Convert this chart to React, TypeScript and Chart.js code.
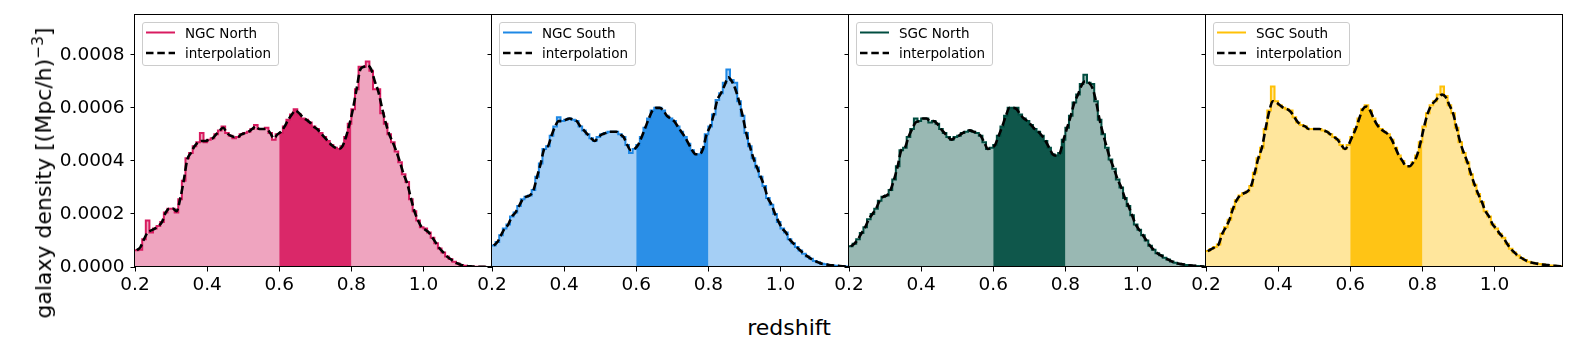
import React, { useEffect, useRef } from 'react';
import { Chart, registerables } from 'chart.js';

Chart.register(...registerables);

// ---------------- data ----------------
const BIN_EDGES = [
  0.20, 0.21, 0.22, 0.23, 0.24, 0.25, 0.26, 0.27, 0.28, 0.29,
  0.30, 0.31, 0.32, 0.33, 0.34, 0.35, 0.36, 0.37, 0.38, 0.39,
  0.40, 0.41, 0.42, 0.43, 0.44, 0.45, 0.46, 0.47, 0.48, 0.49,
  0.50, 0.51, 0.52, 0.53, 0.54, 0.55, 0.56, 0.57, 0.58, 0.59,
  0.60, 0.61, 0.62, 0.63, 0.64, 0.65, 0.66, 0.67, 0.68, 0.69,
  0.70, 0.71, 0.72, 0.73, 0.74, 0.75, 0.76, 0.77, 0.78, 0.79,
  0.80, 0.81, 0.82, 0.83, 0.84, 0.85, 0.86, 0.87, 0.88, 0.89,
  0.90, 0.91, 0.92, 0.93, 0.94, 0.95, 0.96, 0.97, 0.98, 0.99,
  1.00, 1.01, 1.02, 1.03, 1.04, 1.05, 1.06, 1.07, 1.08, 1.09,
  1.10, 1.11, 1.12, 1.13, 1.14, 1.15, 1.16, 1.17, 1.18, 1.19,
];

const NGC_NORTH_HIST = [
  6.3e-5, 6.5e-5, 1.05e-4, 1.75e-4, 1.3e-4, 1.45e-4, 1.55e-4, 1.7e-4, 2.05e-4, 2.2e-4,
  2.2e-4, 2.05e-4, 2.55e-4, 3.25e-4, 4.1e-4, 4.3e-4, 4.55e-4, 4.7e-4, 5.05e-4, 4.7e-4,
  4.8e-4, 4.85e-4, 5.0e-4, 5.15e-4, 5.3e-4, 5.05e-4, 4.95e-4, 4.85e-4, 4.9e-4, 5.0e-4,
  5.05e-4, 5.1e-4, 5.2e-4, 5.35e-4, 5.2e-4, 5.2e-4, 5.25e-4, 5.05e-4, 4.8e-4, 5.0e-4,
  5.05e-4, 5.3e-4, 5.55e-4, 5.75e-4, 5.95e-4, 5.75e-4, 5.6e-4, 5.55e-4, 5.45e-4, 5.3e-4,
  5.2e-4, 5.05e-4, 4.9e-4, 4.75e-4, 4.6e-4, 4.5e-4, 4.45e-4, 4.55e-4, 4.9e-4, 5.4e-4,
  5.95e-4, 6.7e-4, 7.55e-4, 7.55e-4, 7.75e-4, 7.4e-4, 6.7e-4, 6.7e-4, 5.8e-4, 5.4e-4,
  5.0e-4, 4.7e-4, 4.35e-4, 3.95e-4, 3.5e-4, 3.2e-4, 2.55e-4, 2.1e-4, 1.75e-4, 1.5e-4,
  1.45e-4, 1.3e-4, 1.1e-4, 9.0e-5, 7.0e-5, 5.5e-5, 4.0e-5, 3.0e-5, 2.0e-5, 1.3e-5,
  8e-6, 5e-6, 3e-6, 2e-6, 1e-6, 1e-6, 5e-7, 0, 0,
];
const NGC_NORTH_INTERP = [
  6.3e-5, 7.5e-5, 1.05e-4, 1.3e-4, 1.38e-4, 1.45e-4, 1.55e-4, 1.7e-4, 2.05e-4, 2.2e-4,
  2.2e-4, 2.1e-4, 2.55e-4, 3.25e-4, 4.05e-4, 4.3e-4, 4.55e-4, 4.7e-4, 4.75e-4, 4.75e-4,
  4.8e-4, 4.85e-4, 5.0e-4, 5.15e-4, 5.25e-4, 5.05e-4, 4.95e-4, 4.9e-4, 4.9e-4, 5.0e-4,
  5.05e-4, 5.1e-4, 5.2e-4, 5.3e-4, 5.2e-4, 5.2e-4, 5.2e-4, 5.05e-4, 4.85e-4, 5.0e-4,
  5.1e-4, 5.3e-4, 5.55e-4, 5.75e-4, 5.9e-4, 5.8e-4, 5.65e-4, 5.55e-4, 5.45e-4, 5.3e-4,
  5.2e-4, 5.05e-4, 4.9e-4, 4.75e-4, 4.6e-4, 4.5e-4, 4.45e-4, 4.55e-4, 4.9e-4, 5.4e-4,
  6.0e-4, 6.75e-4, 7.45e-4, 7.55e-4, 7.6e-4, 7.45e-4, 7.0e-4, 6.6e-4, 6.0e-4, 5.45e-4,
  5.0e-4, 4.7e-4, 4.35e-4, 3.95e-4, 3.5e-4, 3.15e-4, 2.6e-4, 2.1e-4, 1.75e-4, 1.5e-4,
  1.4e-4, 1.3e-4, 1.1e-4, 9.0e-5, 7.0e-5, 5.5e-5, 4.0e-5, 3.0e-5, 2.0e-5, 1.3e-5,
  8e-6, 5e-6, 3e-6, 2e-6, 1e-6, 1e-6, 5e-7, 0, 0,
];

const NGC_SOUTH_HIST = [
  8.1e-5, 9.4e-5, 1.2e-4, 1.45e-4, 1.6e-4, 1.9e-4, 2.05e-4, 2.3e-4, 2.55e-4, 2.65e-4,
  2.7e-4, 2.9e-4, 3.4e-4, 3.9e-4, 4.45e-4, 4.55e-4, 4.95e-4, 5.3e-4, 5.65e-4, 5.5e-4,
  5.55e-4, 5.6e-4, 5.55e-4, 5.5e-4, 5.3e-4, 5.15e-4, 5.0e-4, 4.85e-4, 4.75e-4, 4.9e-4,
  5.0e-4, 5.05e-4, 5.1e-4, 5.1e-4, 5.1e-4, 5.0e-4, 4.9e-4, 4.6e-4, 4.3e-4, 4.45e-4,
  4.6e-4, 4.9e-4, 5.25e-4, 5.6e-4, 5.9e-4, 6.0e-4, 6.0e-4, 5.9e-4, 5.7e-4, 5.6e-4,
  5.5e-4, 5.3e-4, 5.1e-4, 4.9e-4, 4.65e-4, 4.4e-4, 4.25e-4, 4.25e-4, 4.45e-4, 5.0e-4,
  5.3e-4, 5.75e-4, 6.3e-4, 6.55e-4, 6.95e-4, 7.45e-4, 7.05e-4, 6.95e-4, 6.25e-4, 5.7e-4,
  5.05e-4, 4.55e-4, 4.1e-4, 3.75e-4, 3.4e-4, 3.05e-4, 2.6e-4, 2.35e-4, 2.0e-4, 1.7e-4,
  1.45e-4, 1.3e-4, 1.05e-4, 9.0e-5, 7.5e-5, 6.2e-5, 5.0e-5, 4.0e-5, 3.1e-5, 2.3e-5,
  1.75e-5, 1.25e-5, 1.0e-5, 7.5e-6, 6e-6, 5e-6, 3.5e-6, 2.5e-6, 1.5e-6,
];
const NGC_SOUTH_INTERP = [
  8.1e-5, 9.4e-5, 1.2e-4, 1.45e-4, 1.6e-4, 1.9e-4, 2.05e-4, 2.3e-4, 2.55e-4, 2.65e-4,
  2.7e-4, 2.9e-4, 3.4e-4, 3.9e-4, 4.45e-4, 4.55e-4, 4.95e-4, 5.3e-4, 5.5e-4, 5.5e-4,
  5.55e-4, 5.6e-4, 5.55e-4, 5.5e-4, 5.3e-4, 5.15e-4, 5.0e-4, 4.85e-4, 4.75e-4, 4.9e-4,
  5.0e-4, 5.05e-4, 5.1e-4, 5.1e-4, 5.1e-4, 5.0e-4, 4.9e-4, 4.6e-4, 4.4e-4, 4.45e-4,
  4.6e-4, 4.9e-4, 5.25e-4, 5.6e-4, 5.9e-4, 6.0e-4, 6.0e-4, 5.9e-4, 5.7e-4, 5.6e-4,
  5.5e-4, 5.3e-4, 5.1e-4, 4.9e-4, 4.65e-4, 4.4e-4, 4.25e-4, 4.25e-4, 4.45e-4, 5.0e-4,
  5.3e-4, 5.75e-4, 6.3e-4, 6.55e-4, 6.85e-4, 7.15e-4, 7.0e-4, 6.7e-4, 6.25e-4, 5.7e-4,
  5.05e-4, 4.55e-4, 4.1e-4, 3.75e-4, 3.4e-4, 3.05e-4, 2.6e-4, 2.35e-4, 2.0e-4, 1.7e-4,
  1.45e-4, 1.3e-4, 1.05e-4, 9.0e-5, 7.5e-5, 6.2e-5, 5.0e-5, 4.0e-5, 3.1e-5, 2.3e-5,
  1.75e-5, 1.25e-5, 1.0e-5, 7.5e-6, 6e-6, 5e-6, 3.5e-6, 2.5e-6, 1.5e-6,
];

const SGC_NORTH_HIST = [
  7.8e-5, 8.8e-5, 1.05e-4, 1.28e-4, 1.5e-4, 1.8e-4, 2.0e-4, 2.2e-4, 2.5e-4, 2.65e-4,
  2.7e-4, 2.9e-4, 3.3e-4, 3.8e-4, 4.4e-4, 4.5e-4, 4.9e-4, 5.2e-4, 5.6e-4, 5.5e-4,
  5.6e-4, 5.6e-4, 5.45e-4, 5.5e-4, 5.4e-4, 5.2e-4, 5.05e-4, 4.9e-4, 4.8e-4, 4.9e-4,
  4.95e-4, 5.05e-4, 5.1e-4, 5.15e-4, 5.1e-4, 5.05e-4, 4.95e-4, 4.7e-4, 4.45e-4, 4.5e-4,
  4.6e-4, 4.95e-4, 5.3e-4, 5.7e-4, 6.0e-4, 6.0e-4, 6.0e-4, 5.75e-4, 5.6e-4, 5.5e-4,
  5.35e-4, 5.2e-4, 5.1e-4, 4.95e-4, 4.75e-4, 4.5e-4, 4.25e-4, 4.2e-4, 4.3e-4, 4.8e-4,
  5.25e-4, 5.7e-4, 6.2e-4, 6.5e-4, 6.9e-4, 7.25e-4, 6.95e-4, 6.9e-4, 6.25e-4, 5.55e-4,
  5.0e-4, 4.5e-4, 4.05e-4, 3.7e-4, 3.3e-4, 3.0e-4, 2.6e-4, 2.3e-4, 1.95e-4, 1.6e-4,
  1.4e-4, 1.2e-4, 1.0e-4, 8.0e-5, 6.5e-5, 5.2e-5, 4.4e-5, 3.5e-5, 2.8e-5, 2.1e-5,
  1.6e-5, 1.25e-5, 1.0e-5, 7.5e-6, 6e-6, 5e-6, 4e-6, 2.5e-6, 1.5e-6,
];
const SGC_NORTH_INTERP = [
  7.8e-5, 8.8e-5, 1.05e-4, 1.28e-4, 1.5e-4, 1.8e-4, 2.0e-4, 2.2e-4, 2.5e-4, 2.65e-4,
  2.7e-4, 2.9e-4, 3.3e-4, 3.8e-4, 4.4e-4, 4.5e-4, 4.9e-4, 5.2e-4, 5.45e-4, 5.5e-4,
  5.6e-4, 5.6e-4, 5.5e-4, 5.5e-4, 5.4e-4, 5.2e-4, 5.05e-4, 4.9e-4, 4.8e-4, 4.9e-4,
  4.95e-4, 5.05e-4, 5.1e-4, 5.15e-4, 5.1e-4, 5.05e-4, 4.95e-4, 4.7e-4, 4.45e-4, 4.5e-4,
  4.6e-4, 4.95e-4, 5.3e-4, 5.7e-4, 6.0e-4, 6.0e-4, 5.95e-4, 5.75e-4, 5.6e-4, 5.5e-4,
  5.35e-4, 5.2e-4, 5.1e-4, 4.95e-4, 4.75e-4, 4.5e-4, 4.25e-4, 4.2e-4, 4.3e-4, 4.8e-4,
  5.25e-4, 5.7e-4, 6.2e-4, 6.5e-4, 6.85e-4, 7.0e-4, 6.95e-4, 6.75e-4, 6.25e-4, 5.55e-4,
  5.0e-4, 4.5e-4, 4.05e-4, 3.7e-4, 3.3e-4, 3.0e-4, 2.6e-4, 2.3e-4, 1.95e-4, 1.6e-4,
  1.4e-4, 1.2e-4, 1.0e-4, 8.0e-5, 6.5e-5, 5.2e-5, 4.4e-5, 3.5e-5, 2.8e-5, 2.1e-5,
  1.6e-5, 1.25e-5, 1.0e-5, 7.5e-6, 6e-6, 5e-6, 4e-6, 2.5e-6, 1.5e-6,
];

const SGC_SOUTH_HIST = [
  6.0e-5, 6.75e-5, 7.5e-5, 8.5e-5, 1.25e-4, 1.5e-4, 1.78e-4, 2.2e-4, 2.52e-4, 2.7e-4,
  2.78e-4, 2.85e-4, 3.05e-4, 3.55e-4, 4.1e-4, 4.5e-4, 5.2e-4, 5.9e-4, 6.8e-4, 6.25e-4,
  6.1e-4, 6.0e-4, 5.95e-4, 5.9e-4, 5.65e-4, 5.45e-4, 5.35e-4, 5.3e-4, 5.2e-4, 5.2e-4,
  5.2e-4, 5.2e-4, 5.15e-4, 5.1e-4, 5.0e-4, 4.9e-4, 4.8e-4, 4.6e-4, 4.45e-4, 4.6e-4,
  4.9e-4, 5.2e-4, 5.6e-4, 5.95e-4, 6.1e-4, 5.9e-4, 5.6e-4, 5.35e-4, 5.2e-4, 5.1e-4,
  5.0e-4, 4.8e-4, 4.5e-4, 4.2e-4, 4.0e-4, 3.8e-4, 3.8e-4, 3.95e-4, 4.2e-4, 4.7e-4,
  5.3e-4, 5.8e-4, 6.1e-4, 6.25e-4, 6.5e-4, 6.8e-4, 6.45e-4, 6.1e-4, 5.8e-4, 5.25e-4,
  4.7e-4, 4.3e-4, 3.95e-4, 3.5e-4, 3.1e-4, 2.75e-4, 2.45e-4, 2.1e-4, 1.9e-4, 1.6e-4,
  1.45e-4, 1.25e-4, 1.1e-4, 8.8e-5, 6.9e-5, 5.5e-5, 4.3e-5, 3.4e-5, 2.6e-5, 2.0e-5,
  1.6e-5, 1.35e-5, 1.1e-5, 9e-6, 7.5e-6, 6e-6, 5e-6, 4e-6, 2.5e-6,
];
const SGC_SOUTH_INTERP = [
  6.0e-5, 6.75e-5, 7.5e-5, 8.5e-5, 1.25e-4, 1.5e-4, 1.78e-4, 2.2e-4, 2.52e-4, 2.7e-4,
  2.78e-4, 2.85e-4, 3.05e-4, 3.55e-4, 4.1e-4, 4.5e-4, 5.2e-4, 5.85e-4, 6.25e-4, 6.2e-4,
  6.1e-4, 6.0e-4, 5.95e-4, 5.85e-4, 5.65e-4, 5.45e-4, 5.35e-4, 5.3e-4, 5.2e-4, 5.2e-4,
  5.2e-4, 5.2e-4, 5.15e-4, 5.1e-4, 5.0e-4, 4.9e-4, 4.8e-4, 4.6e-4, 4.45e-4, 4.6e-4,
  4.9e-4, 5.2e-4, 5.6e-4, 5.95e-4, 6.05e-4, 5.9e-4, 5.6e-4, 5.35e-4, 5.2e-4, 5.1e-4,
  5.0e-4, 4.8e-4, 4.5e-4, 4.2e-4, 4.0e-4, 3.8e-4, 3.8e-4, 3.95e-4, 4.2e-4, 4.7e-4,
  5.3e-4, 5.8e-4, 6.1e-4, 6.25e-4, 6.4e-4, 6.5e-4, 6.4e-4, 6.1e-4, 5.8e-4, 5.25e-4,
  4.7e-4, 4.3e-4, 3.95e-4, 3.5e-4, 3.1e-4, 2.75e-4, 2.45e-4, 2.1e-4, 1.9e-4, 1.6e-4,
  1.45e-4, 1.25e-4, 1.1e-4, 8.8e-5, 6.9e-5, 5.5e-5, 4.3e-5, 3.4e-5, 2.6e-5, 2.0e-5,
  1.6e-5, 1.35e-5, 1.1e-5, 9e-6, 7.5e-6, 6e-6, 5e-6, 4e-6, 2.5e-6,
];

const PANEL_LABELS = ['NGC North', 'NGC South', 'SGC North', 'SGC South'];
const PANEL_HISTS = [NGC_NORTH_HIST, NGC_SOUTH_HIST, SGC_NORTH_HIST, SGC_SOUTH_HIST];
const PANEL_INTERPS = [NGC_NORTH_INTERP, NGC_SOUTH_INTERP, SGC_NORTH_INTERP, SGC_SOUTH_INTERP];
const PANEL_RGB = [
  [216, 27, 96],
  [30, 136, 229],
  [0, 77, 64],
  [255, 193, 7],
];
const INTERP_LABEL = 'interpolation';

const X_TICKS = [0.2, 0.4, 0.6, 0.8, 1.0];
const X_TICK_LABELS = ['0.2', '0.4', '0.6', '0.8', '1.0'];
const Y_TICKS = [0, 0.0002, 0.0004, 0.0006, 0.0008];
const Y_TICK_LABELS = ['0.0000', '0.0002', '0.0004', '0.0006', '0.0008'];
const X_MIN = 0.2;
const X_MAX = 1.19;
const Y_MIN = 0;
const Y_MAX = 0.00095;
const HIGHLIGHT_FROM = 0.6;
const HIGHLIGHT_TO = 0.8;

const X_TITLE = 'redshift';

// ---------------- layout / style ----------------
const FONT = '"DejaVu Sans", sans-serif';
const PLOT_LEFT0 = 135;
const PANEL_W = 357;
const PLOT_TOP = 15;
const PLOT_BOTTOM = 267;
const CANVAS_H = 300;
const SIDE = 20;
const X_AXIS_H = 30;
const TICK_FONT = 18.5;
const LEGEND_FONT = 13.5;

const rgba = (c: number[], a: number) => `rgba(${c[0]},${c[1]},${c[2]},${a})`;

const framePlugin = {
  id: 'frame',
  afterDatasetsDraw(chart: any) {
    const { ctx, chartArea } = chart;
    ctx.save();
    ctx.strokeStyle = '#000';
    ctx.lineWidth = 1;
    ctx.strokeRect(
      chartArea.left - 0.5,
      chartArea.top - 0.5,
      chartArea.right - chartArea.left,
      chartArea.bottom - chartArea.top
    );
    ctx.restore();
  },
};

function panelGeom(i: number) {
  const plotLeft = PLOT_LEFT0 + PANEL_W * i;
  const canvasLeft = i === 0 ? 0 : plotLeft - SIDE;
  const yAxisW = i === 0 ? plotLeft : SIDE;
  const width = yAxisW + PANEL_W + SIDE;
  return { plotLeft, canvasLeft, yAxisW, width };
}

function makeConfig(i: number): any {
  const hist = PANEL_HISTS[i];
  const interp = PANEL_INTERPS[i];
  const rgb = PANEL_RGB[i];
  const { yAxisW } = panelGeom(i);

  const stepPts: { x: number; y: number }[] = [];
  const darkPts: { x: number; y: number }[] = [];
  hist.forEach((v, k) => {
    const a = BIN_EDGES[k];
    const b = BIN_EDGES[k + 1];
    stepPts.push({ x: a, y: v }, { x: b, y: v });
    if (a >= HIGHLIGHT_FROM - 1e-9 && b <= HIGHLIGHT_TO + 1e-9) {
      darkPts.push({ x: a, y: v }, { x: b, y: v });
    }
  });
  const interpPts = interp.map((v, k) => ({ x: (BIN_EDGES[k] + BIN_EDGES[k + 1]) / 2, y: v }));

  return {
    type: 'line',
    data: {
      datasets: [
        {
          label: INTERP_LABEL,
          data: interpPts,
          borderColor: '#000',
          borderWidth: 2.6,
          borderDash: [8, 3.6],
          borderCapStyle: 'butt',
          cubicInterpolationMode: 'monotone',
          pointRadius: 0,
          fill: false,
        },
        {
          label: PANEL_LABELS[i],
          data: stepPts,
          borderColor: rgba(rgb, 1),
          borderWidth: 2,
          borderJoinStyle: 'miter',
          pointRadius: 0,
          tension: 0,
          fill: false,
        },
        {
          label: 'highlight',
          data: darkPts,
          borderColor: 'rgba(0,0,0,0)',
          borderWidth: 0,
          backgroundColor: rgba(rgb, 0.9),
          pointRadius: 0,
          tension: 0,
          fill: 'origin',
        },
        {
          label: 'fill',
          data: stepPts,
          borderColor: 'rgba(0,0,0,0)',
          borderWidth: 0,
          backgroundColor: rgba(rgb, 0.4),
          pointRadius: 0,
          tension: 0,
          fill: 'origin',
        },
      ],
    },
    options: {
      animation: false,
      responsive: false,
      devicePixelRatio: 1,
      events: [],
      layout: {
        padding: { left: 0, right: SIDE, top: PLOT_TOP, bottom: CANVAS_H - PLOT_BOTTOM - X_AXIS_H },
      },
      plugins: {
        legend: { display: false },
        tooltip: { enabled: false },
        title: { display: false },
      },
      scales: {
        x: {
          type: 'linear',
          min: X_MIN,
          max: X_MAX,
          afterBuildTicks: (s: any) => {
            s.ticks = X_TICKS.map((v) => ({ value: v }));
          },
          afterFit: (s: any) => {
            s.height = X_AXIS_H;
            s.paddingLeft = 0;
            s.paddingRight = 0;
            s.paddingTop = 0;
            s.paddingBottom = 0;
          },
          ticks: {
            callback: (_v: any, idx: number) => X_TICK_LABELS[idx],
            autoSkip: false,
            maxRotation: 0,
            minRotation: 0,
            color: '#000',
            padding: 3,
            font: { family: FONT, size: TICK_FONT },
          },
          grid: {
            drawOnChartArea: false,
            drawTicks: true,
            tickLength: 4.5,
            color: '#000',
            lineWidth: 1,
          },
          border: { display: false },
        },
        y: {
          type: 'linear',
          min: Y_MIN,
          max: Y_MAX,
          afterBuildTicks: (s: any) => {
            s.ticks = Y_TICKS.map((v) => ({ value: v }));
          },
          afterFit: (s: any) => {
            s.width = yAxisW;
            s.paddingLeft = 0;
            s.paddingRight = 0;
            s.paddingTop = 0;
            s.paddingBottom = 0;
          },
          ticks: {
            display: i === 0,
            callback: (_v: any, idx: number) => Y_TICK_LABELS[idx],
            color: '#000',
            padding: 6,
            font: { family: FONT, size: TICK_FONT },
          },
          grid: {
            drawOnChartArea: false,
            drawTicks: true,
            tickLength: 4.5,
            color: '#000',
            lineWidth: 1,
          },
          border: { display: false },
        },
      },
    },
    plugins: [framePlugin],
  };
}

function Panel({ index }: { index: number }) {
  const ref = useRef<HTMLCanvasElement | null>(null);
  const { canvasLeft, width } = panelGeom(index);
  useEffect(() => {
    if (!ref.current) return;
    const chart = new Chart(ref.current, makeConfig(index));
    return () => chart.destroy();
  }, [index]);
  return (
    <canvas
      ref={ref}
      width={width}
      height={CANVAS_H}
      style={{ position: 'absolute', left: canvasLeft, top: 0, width, height: CANVAS_H }}
    />
  );
}

function Legend({ index }: { index: number }) {
  const { plotLeft } = panelGeom(index);
  const rgb = PANEL_RGB[index];
  const rowY = [9.5, 30];
  const textStyle: React.CSSProperties = {
    position: 'absolute',
    left: 42,
    transform: 'translateY(-50%)',
    lineHeight: '16px',
    fontSize: LEGEND_FONT + 'px',
    whiteSpace: 'nowrap',
  };
  return (
    <div
      style={{
        position: 'absolute',
        left: plotLeft + 7,
        top: 22,
        width: 137,
        height: 44,
        boxSizing: 'border-box',
        border: '1px solid #cccccc',
        borderRadius: 3,
        background: 'rgba(255,255,255,0.8)',
        fontFamily: FONT,
        fontSize: LEGEND_FONT + 'px',
        color: '#000',
      }}
    >
      <svg
        width={32}
        height={42}
        viewBox="0 0 32 42"
        style={{ position: 'absolute', left: 3, top: 0, width: 32, height: 42, overflow: 'visible' }}
      >
        <line x1={0} x2={29} y1={rowY[0]} y2={rowY[0]} stroke={rgba(rgb, 1)} strokeWidth={2} />
        <line
          x1={0}
          x2={29}
          y1={rowY[1]}
          y2={rowY[1]}
          stroke="#000"
          strokeWidth={2.6}
          strokeDasharray="7.5 3.8"
        />
      </svg>
      <div style={{ ...textStyle, top: rowY[0] }}>{PANEL_LABELS[index]}</div>
      <div style={{ ...textStyle, top: rowY[1] }}>{INTERP_LABEL}</div>
    </div>
  );
}

export default function App() {
  return (
    <div
      style={{
        position: 'absolute',
        left: 0,
        top: 0,
        width: 1578,
        height: 345,
        background: '#fff',
        overflow: 'hidden',
      }}
    >
      {PANEL_LABELS.map((_, i) => (
        <Panel key={'p' + i} index={i} />
      ))}
      {PANEL_LABELS.map((_, i) => (
        <Legend key={'l' + i} index={i} />
      ))}
      <div
        style={{
          position: 'absolute',
          left: 0,
          top: 315,
          width: 1578,
          textAlign: 'center',
          fontFamily: FONT,
          fontSize: 22,
          lineHeight: '26px',
          color: '#000',
        }}
      >
        {X_TITLE}
      </div>
      <div
        style={{
          position: 'absolute',
          left: 44,
          top: 172.5,
          transform: 'translate(-50%, -50%) rotate(-90deg)',
          fontFamily: FONT,
          fontSize: 22,
          lineHeight: '26px',
          whiteSpace: 'nowrap',
          color: '#000',
        }}
      >
        galaxy density [(Mpc/h)
        <sup style={{ fontSize: '0.7em', lineHeight: 0, verticalAlign: '0.5em' }}>−3</sup>]
      </div>
    </div>
  );
}
